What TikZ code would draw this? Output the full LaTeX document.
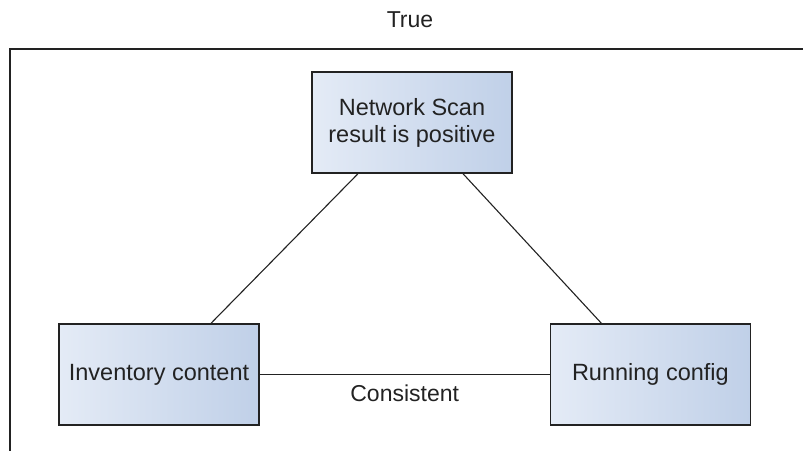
\documentclass[tikz,border=0pt]{standalone}
\usepackage{fontspec}
\setmainfont{Liberation Sans}
\usetikzlibrary{positioning}
\definecolor{boxleft}{RGB}{228,235,246}
\definecolor{boxright}{RGB}{192,208,232}
\definecolor{ink}{RGB}{34,34,34}

\begin{document}
\begin{tikzpicture}[
    x=1pt, y=-1pt,
    node distance=0pt and 290pt,
    box/.style={draw=ink, line width=1.4pt, left color=boxleft, right color=boxright,
      minimum width=200pt, minimum height=101pt, inner sep=0pt, align=center,
      font=\fontsize{23.5}{27}\selectfont, text=ink},
    lbl/.style={font=\fontsize{23}{27}\selectfont, text=ink},
    link/.style={draw=ink, line width=1.1pt}
  ]
  \useasboundingbox (0,0) rectangle (803,450);
  % outer frame, cut by the page
  \draw[ink, line width=1.3pt] (820,49) -- (10,49) -- (10,470);
  \node[lbl] (true) at (410,20) {True};
  \node[box] (net) at (412,122.5) {Network Scan\\result is positive};
  \node[box] (inv) at (159,374.5) {Inventory content};
  \node[box, right=of inv] (run) {Running config};
  \draw[link] ([xshift=-54pt]net.south) -- ([xshift=52pt]inv.north);
  \draw[link] ([xshift=51pt]net.south) -- ([xshift=-49pt]run.north);
  \draw[link] (inv) -- (run)
    node[midway, below=6pt, lbl] (cons) {Consistent};
\end{tikzpicture}
\end{document}
